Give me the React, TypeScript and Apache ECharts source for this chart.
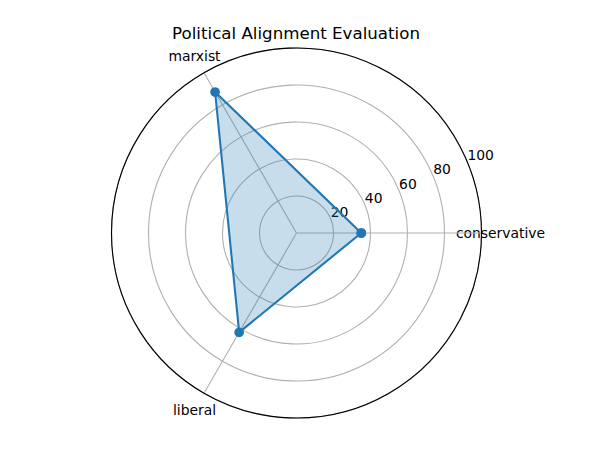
import React, { useEffect, useRef } from 'react';
import * as echarts from 'echarts';

const chartTitle = 'Political Alignment Evaluation';
const categories = ['conservative', 'marxist', 'liberal'];
const values = [35, 88, 62];
const radialMax = 100;
const radialInterval = 20;

export default function App() {
  const ref = useRef<HTMLDivElement>(null);
  useEffect(() => {
    const chart = echarts.init(ref.current!, null, { renderer: 'svg' });
    const font = 'DejaVu Sans';
    const center = [296.5, 233];
    const step = 360 / categories.length;
    const angleOf = (i: number) => i * step;
    const closed = [
      ...categories.map((c, i) => [values[i], angleOf(i)]),
      [values[0], 360],
    ];
    chart.setOption({
      animation: false,
      backgroundColor: '#ffffff',
      textStyle: { fontFamily: font },
      title: {
        text: chartTitle,
        left: 'center',
        top: 20,
        textStyle: { fontSize: 16.67, fontWeight: 'normal', color: '#000', fontFamily: font },
      },
      polar: [
        { center, radius: 185 },
        { center, radius: 185 },
        { center, radius: 204 },
      ],
      angleAxis: [
        {
          polarIndex: 0,
          type: 'value',
          min: 0,
          max: 360,
          interval: step,
          startAngle: 0,
          clockwise: false,
          axisLine: { show: true, lineStyle: { color: '#000', width: 1.1 } },
          axisTick: { show: false },
          axisLabel: { show: false },
          splitLine: { show: true, lineStyle: { color: '#b0b0b0', width: 1.1 } },
          z: 3,
        },
        { polarIndex: 1, type: 'value', min: 0, max: 360, startAngle: 22.5, clockwise: false, show: false },
        {
          polarIndex: 2,
          type: 'value',
          min: 0,
          max: 360,
          startAngle: 0,
          clockwise: false,
          show: false,
        },
      ],
      radiusAxis: [
        {
          polarIndex: 0,
          type: 'value',
          min: 0,
          max: radialMax,
          interval: radialInterval,
          axisLine: { show: false },
          axisTick: { show: false },
          axisLabel: { show: false },
          splitLine: { show: true, lineStyle: { color: '#b0b0b0', width: 1.1 } },
          z: 1,
        },
        {
          polarIndex: 1,
          type: 'value',
          min: 0,
          max: radialMax,
          interval: radialInterval,
          axisLine: { show: false },
          axisTick: { show: false },
          splitLine: { show: false },
          axisLabel: {
            show: true,
            margin: 0,
            align: 'left',
            verticalAlign: 'bottom',
            fontSize: 13.9,
            color: '#000',
            fontFamily: font,
            showMinLabel: false,
            formatter: (v: number) => String(v),
          },
        },
        { polarIndex: 2, type: 'value', min: 0, max: radialMax, show: false },
      ],
      series: [
        {
          type: 'line',
          coordinateSystem: 'polar',
          polarIndex: 0,
          data: closed,
          symbol: 'circle',
          symbolSize: 9.7,
          showAllSymbol: true,
          lineStyle: { color: '#1f77b4', width: 2.08 },
          itemStyle: { color: '#1f77b4' },
          areaStyle: { color: '#1f77b4', opacity: 0.25 },
          silent: true,
          z: 5,
        },
        {
          type: 'scatter',
          coordinateSystem: 'polar',
          polarIndex: 2,
          data: categories.map((c, i) => [radialMax, angleOf(i)]),
          symbolSize: 1,
          itemStyle: { color: 'rgba(0,0,0,0)' },
          clip: false,
          silent: true,
          label: {
            show: true,
            position: 'inside',
            align: 'center',
            verticalAlign: 'middle',
            fontSize: 13.9,
            color: '#000000',
            opacity: 1,
            fontFamily: font,
            formatter: (p: any) => categories[p.dataIndex],
          },
        },
      ],
    });
    return () => chart.dispose();
  }, []);
  return (
    <div
      ref={ref}
      style={{ position: 'fixed', left: 0, top: 0, width: 592, height: 471 }}
    />
  );
}
